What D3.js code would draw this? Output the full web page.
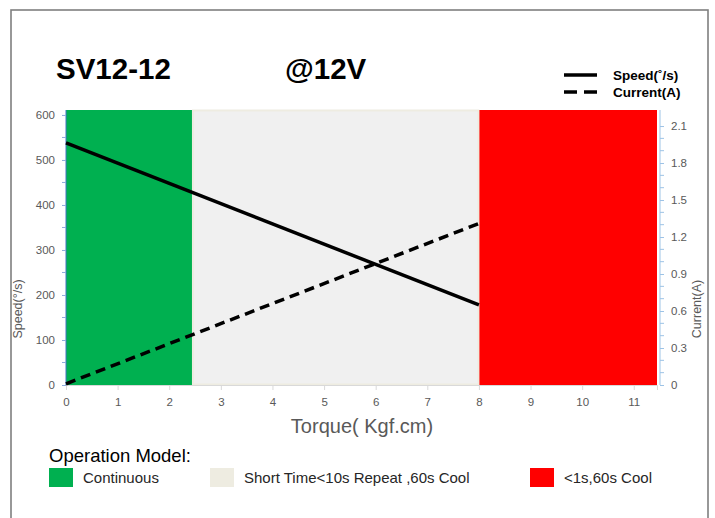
<!DOCTYPE html>
<html>
<head>
<meta charset="utf-8">
<script src="https://cdn.jsdelivr.net/npm/d3@7"></script>
<style>
  html, body { margin:0; padding:0; background:#fff; }
  svg { display:block; font-family:"Liberation Sans", Arial, sans-serif; }
  .tk text { fill:#595959; font-size:11.5px; }
</style>
</head>
<body>
<div id="chart"></div>
<script>
// ── data ─────────────────────────────────────────
const TITLE = "SV12-12";
const VOLT = "@12V";
const ZONES = [
  { label:"Continuous", x0:0, x1:2.45, color:"#00b050", sw:"#00b050" },
  { label:"Short Time<10s Repeat ,60s Cool", x0:2.45, x1:8, color:"#f0f0f0", sw:"#eeece1" },
  { label:"<1s,60s Cool", x0:8, x1:11.45, color:"#ff0000", sw:"#ff0000" }
];
const TORQUE  = [0, 8];
const SPEED   = [538, 178];   // °/s
const CURRENT = [0.01, 1.31]; // A
const X_TICKS  = [0,1,2,3,4,5,6,7,8,9,10,11];
const YL_TICKS = [0,100,200,300,400,500,600];
const YR_TICKS = [0,0.3,0.6,0.9,1.2,1.5,1.8,2.1];

// ── layout ───────────────────────────────────────
const W = 715, H = 518;
const PL = {l:66, r:657, t:110, b:385};

const svg = d3.select("#chart").append("svg").attr("width",W).attr("height",H);

// outer frame
svg.append("rect").attr("x",11).attr("y",10).attr("width",697).attr("height",530)
  .attr("fill","#fff").attr("stroke","#7f7f7f").attr("stroke-width",1.6);

const x  = d3.scaleLinear().domain([0,11.45]).range([PL.l,PL.r]);
const yL = d3.scaleLinear().domain([0,611]).range([PL.b,PL.t]);
const yR = d3.scaleLinear().domain([0,2.23]).range([PL.b,PL.t]);

// titles
svg.append("text").attr("x",56).attr("y",79).attr("font-size",29.5).attr("font-weight","bold")
  .attr("fill","#000").text(TITLE);
svg.append("text").attr("x",285).attr("y",79).attr("font-size",29.5).attr("font-weight","bold")
  .attr("fill","#000").text(VOLT);

// zone backgrounds
svg.selectAll(".zone").data(ZONES).join("rect")
  .attr("class","zone")
  .attr("x",d=>x(d.x0)).attr("width",d=>x(d.x1)-x(d.x0))
  .attr("y",PL.t).attr("height",PL.b-PL.t)
  .attr("fill",d=>d.color);
// beige edge around the short-time zone
svg.append("rect")
  .attr("x",x(ZONES[1].x0)+0.5).attr("width",x(ZONES[1].x1)-x(ZONES[1].x0)-1)
  .attr("y",PL.t+0.5).attr("height",PL.b-PL.t-1)
  .attr("fill","none").attr("stroke","#eeece1").attr("stroke-width",2);

// x axis
const gx = svg.append("g").attr("class","tk").attr("transform",`translate(0,${PL.b})`)
  .call(d3.axisBottom(x).tickValues(X_TICKS).tickSize(5).tickPadding(8).tickFormat(d3.format("d")));
gx.select(".domain").attr("stroke","#d9d9d9");
gx.selectAll(".tick line").attr("stroke","#d9d9d9");

// left axis
const gl = svg.append("g").attr("class","tk").attr("transform",`translate(${PL.l},0)`)
  .call(d3.axisLeft(yL).tickValues(YL_TICKS).tickSize(4).tickPadding(7).tickFormat(d3.format("d")));
gl.select(".domain").attr("d",`M0,${PL.b}V${PL.t}`).attr("stroke","#4472c4").attr("stroke-width",1);
gl.selectAll(".tick line").attr("stroke","#8eaadb");
svg.append("g").attr("transform",`translate(${PL.l},0)`)
  .selectAll("line").data(YL_TICKS.slice(0,-1).map(v=>v+50)).join("line")
  .attr("x1",-4).attr("x2",0).attr("y1",d=>yL(d)).attr("y2",d=>yL(d)).attr("stroke","#8eaadb");

// right axis
const gr = svg.append("g").attr("class","tk").attr("transform",`translate(${PL.r+3},0)`)
  .call(d3.axisRight(yR).tickValues(YR_TICKS).tickSize(4).tickPadding(7)
    .tickFormat(d=>d===0?"0":d3.format(".1f")(d)));
gr.select(".domain").attr("d",`M0,${PL.b}V${PL.t}`).attr("stroke","#9dc3e6").attr("stroke-width",1);
gr.selectAll(".tick line").attr("stroke","#9dc3e6");
const minorR = [];
YR_TICKS.slice(0,-1).forEach(v=>{ minorR.push(v+0.1, v+0.2); });
svg.append("g").attr("transform",`translate(${PL.r+3},0)`)
  .selectAll("line").data(minorR).join("line")
  .attr("x1",0).attr("x2",4).attr("y1",d=>yR(d)).attr("y2",d=>yR(d)).attr("stroke","#9dc3e6");

// axis titles
svg.append("text").attr("transform","translate(22,309) rotate(-90)").attr("text-anchor","middle")
  .attr("font-size",12.5).attr("fill","#595959").text("Speed(°/s)");
svg.append("text").attr("transform","translate(701,309) rotate(-90)").attr("text-anchor","middle")
  .attr("font-size",12.5).attr("fill","#595959").text("Current(A)");
svg.append("text").attr("x",362).attr("y",433).attr("text-anchor","middle")
  .attr("font-size",20).attr("fill","#595959").text("Torque( Kgf.cm)");

// lines
const pts = TORQUE.map((t,i)=>({t, s:SPEED[i], c:CURRENT[i]}));
svg.append("path").datum(pts)
  .attr("d",d3.line().x(d=>x(d.t)).y(d=>yL(d.s)))
  .attr("fill","none").attr("stroke","#000").attr("stroke-width",3.5);
svg.append("path").datum(pts)
  .attr("d",d3.line().x(d=>x(d.t)).y(d=>yR(d.c)))
  .attr("fill","none").attr("stroke","#000").attr("stroke-width",3.5)
  .attr("stroke-dasharray","10,6");

// series legend (top right)
const SER = [
  { label:"Speed(˚/s)", dash:null, y:75 },
  { label:"Current(A)", dash:"13,7", y:92 }
];
const lg = svg.append("g");
lg.selectAll("line").data(SER).join("line")
  .attr("x1",564).attr("x2",597).attr("y1",d=>d.y).attr("y2",d=>d.y)
  .attr("stroke","#000").attr("stroke-width",3.5)
  .attr("stroke-dasharray",d=>d.dash);
lg.selectAll("text").data(SER).join("text")
  .attr("x",613).attr("y",d=>d.y+5).attr("font-size",13.5).attr("font-weight","bold")
  .attr("fill","#000").text(d=>d.label);

// operation-model legend
svg.append("text").attr("x",49).attr("y",462).attr("font-size",18.5).attr("fill","#000")
  .text("Operation Model:");
const LX = [49, 210, 530];
const ml = svg.selectAll(".ml").data(ZONES).join("g").attr("class","ml")
  .attr("transform",(d,i)=>`translate(${LX[i]},468)`);
ml.append("rect").attr("width",24).attr("height",19).attr("fill",d=>d.sw);
ml.append("text").attr("x",34).attr("y",15).attr("font-size",15).attr("fill","#262626")
  .text(d=>d.label);
</script>
</body>
</html>
